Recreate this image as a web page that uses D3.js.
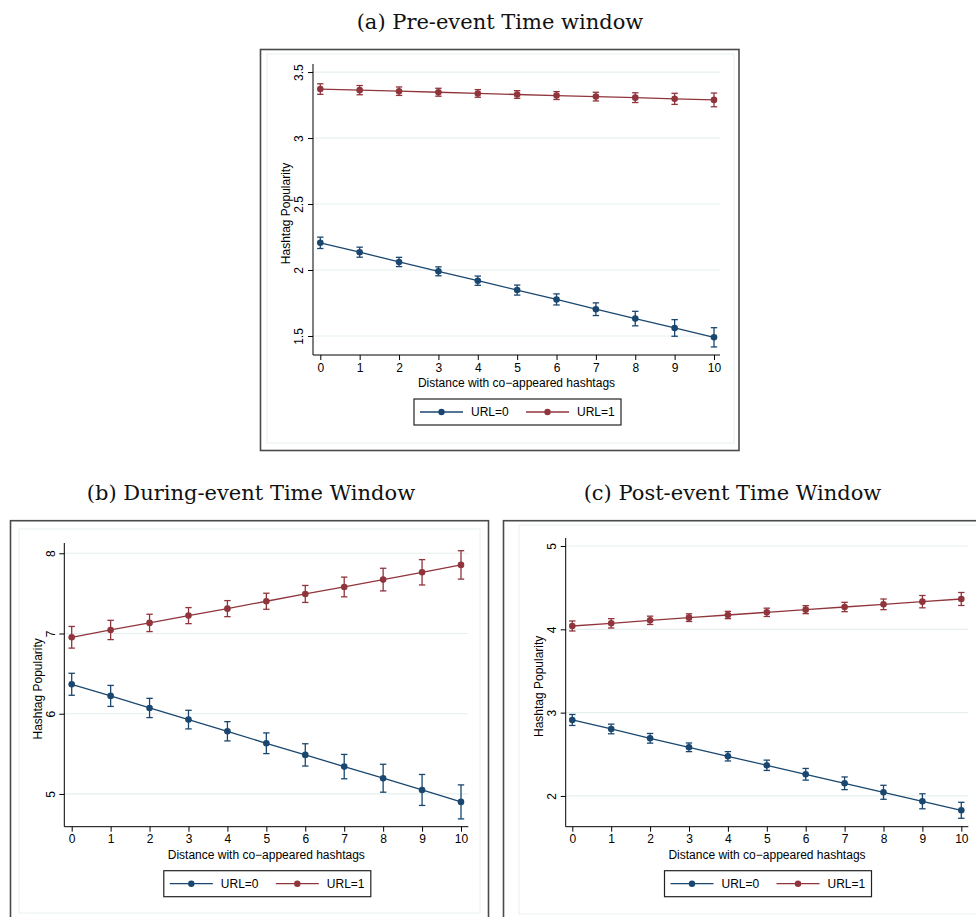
<!DOCTYPE html>
<html>
<head>
<meta charset="utf-8">
<script src="https://cdn.jsdelivr.net/npm/d3@7"></script>
<style>
  html, body { margin: 0; padding: 0; background: #fff; }
  svg { display: block; }
</style>
</head>
<body>
<div id="chart"></div>
<script>
// Margins plots (Stata style), three time windows
const distance = [0, 1, 2, 3, 4, 5, 6, 7, 8, 9, 10];
const seriesNames = ['URL=0', 'URL=1'];
const titles = ['(a) Pre-event Time window', '(b) During-event Time Window', '(c) Post-event Time Window'];
const xLabel = 'Distance with co\u2212appeared hashtags';
const yLabel = 'Hashtag Popularity';

// Pre-event
const preUrl0 = [2.206, 2.135, 2.061, 1.990, 1.919, 1.848, 1.777, 1.703, 1.632, 1.561, 1.490];
const preUrl0Ci = [0.043, 0.038, 0.035, 0.034, 0.035, 0.038, 0.042, 0.048, 0.055, 0.063, 0.073];
const preUrl1 = [3.371, 3.363, 3.355, 3.347, 3.338, 3.330, 3.322, 3.314, 3.306, 3.297, 3.289];
const preUrl1Ci = [0.040, 0.035, 0.032, 0.030, 0.029, 0.029, 0.030, 0.033, 0.037, 0.042, 0.052];
const preTicks = [1.5, 2, 2.5, 3, 3.5];

// During-event
const durUrl0 = [6.367, 6.222, 6.072, 5.927, 5.781, 5.632, 5.487, 5.341, 5.196, 5.050, 4.901];
const durUrl0Ci = [0.137, 0.131, 0.120, 0.116, 0.120, 0.129, 0.139, 0.152, 0.174, 0.193, 0.212];
const durUrl1 = [6.953, 7.044, 7.132, 7.223, 7.310, 7.402, 7.493, 7.580, 7.672, 7.763, 7.855];
const durUrl1Ci = [0.135, 0.120, 0.108, 0.100, 0.100, 0.100, 0.106, 0.123, 0.141, 0.158, 0.177];
const durTicks = [5, 6, 7, 8];

// Post-event
const postUrl0 = [2.912, 2.804, 2.692, 2.584, 2.476, 2.368, 2.260, 2.152, 2.044, 1.936, 1.828];
const postUrl0Ci = [0.066, 0.058, 0.058, 0.052, 0.056, 0.062, 0.070, 0.076, 0.084, 0.090, 0.096];
const postUrl1 = [4.040, 4.072, 4.108, 4.140, 4.172, 4.204, 4.236, 4.268, 4.300, 4.332, 4.364];
const postUrl1Ci = [0.060, 0.056, 0.050, 0.046, 0.044, 0.050, 0.048, 0.056, 0.064, 0.074, 0.078];
const postTicks = [2, 3, 4, 5];

const colors = ['#1a476f', '#90353b'];
const fontFamily = '"Liberation Sans", Arial, sans-serif';
const titleFont = '"DejaVu Serif", "Liberation Serif", serif';

const width = 976, height = 917;
const svg = d3.select('#chart').append('svg')
  .attr('width', width).attr('height', height)
  .attr('viewBox', `0 0 ${width} ${height}`);

// layout for each panel: outer frame, inner region, plot area, y-domain
const panels = [
  {
    title: titles[0], titleX: 500, titleY: 29,
    frame: { x: 260.5, y: 49.5, w: 478.5, h: 401 },
    inner: { x: 267, y: 54, w: 467, h: 389 },
    plot: { left: 313, right: 720, top: 64, bottom: 355, x0: 320.3, x10: 714 },
    yDomain: [1.356, 3.561], yTicks: preTicks,
    series: [[preUrl0, preUrl0Ci], [preUrl1, preUrl1Ci]]
  },
  {
    title: titles[1], titleX: 251, titleY: 500,
    frame: { x: 10.5, y: 520.7, w: 478, h: 402 },
    inner: { x: 19, y: 529, w: 461, h: 384 },
    plot: { left: 64.3, right: 468.3, top: 543, bottom: 826.7, x0: 71.7, x10: 461 },
    yDomain: [4.592, 8.128], yTicks: durTicks,
    series: [[durUrl0, durUrl0Ci], [durUrl1, durUrl1Ci]]
  },
  {
    title: titles[2], titleX: 732.5, titleY: 500,
    frame: { x: 503.5, y: 520.7, w: 485, h: 402 },
    inner: { x: 519, y: 525, w: 470, h: 389 },
    plot: { left: 565.7, right: 968.3, top: 538, bottom: 826.7, x0: 572.3, x10: 961.3 },
    yDomain: [1.631, 5.096], yTicks: postTicks,
    series: [[postUrl0, postUrl0Ci], [postUrl1, postUrl1Ci]]
  }
];

/**
 * Draw one margins panel
 */
function drawPanel(cfg) {
  const g = svg.append('g').attr('class', 'panel');
  const p = cfg.plot;

  g.append('text')
    .attr('x', cfg.titleX).attr('y', cfg.titleY)
    .attr('text-anchor', 'middle')
    .style('font-family', titleFont).style('font-size', '21px')
    .style('fill', '#111')
    .text(cfg.title);

  // graph region frame + inner region
  g.append('rect')
    .attr('x', cfg.frame.x).attr('y', cfg.frame.y)
    .attr('width', cfg.frame.w).attr('height', cfg.frame.h)
    .attr('fill', '#fff').attr('stroke', '#4a4a4a').attr('stroke-width', 1.6);
  g.append('rect')
    .attr('x', cfg.inner.x).attr('y', cfg.inner.y)
    .attr('width', cfg.inner.w).attr('height', cfg.inner.h)
    .attr('fill', '#fff').attr('stroke', '#eaf0f1').attr('stroke-width', 1);

  const x = d3.scaleLinear().domain([0, 10]).range([p.x0, p.x10]);
  const y = d3.scaleLinear().domain(cfg.yDomain).range([p.bottom, p.top]);

  // grid
  g.append('g').attr('class', 'grid')
    .selectAll('line').data(cfg.yTicks).join('line')
    .attr('x1', p.left).attr('x2', p.right)
    .attr('y1', d => y(d)).attr('y2', d => y(d))
    .attr('stroke', '#e6efef').attr('stroke-width', 1.2);

  // y axis
  g.append('g')
    .attr('transform', `translate(${p.left},0)`)
    .call(d3.axisLeft(y).tickValues(cfg.yTicks).tickSize(5).tickPadding(4).tickFormat(d3.format('')))
    .call(a => {
      a.select('.domain').attr('d', `M0,${p.top}V${p.bottom}`).style('stroke', '#000');
      a.selectAll('line').style('stroke', '#000');
      a.selectAll('text')
        .attr('x', null).attr('dy', null)
        .attr('transform', 'translate(-14,0) rotate(-90)')
        .attr('text-anchor', 'middle').attr('dy', '0.35em')
        .style('font-family', fontFamily).style('font-size', '12px').style('fill', '#000');
    });

  // x axis
  g.append('g')
    .attr('transform', `translate(0,${p.bottom})`)
    .call(d3.axisBottom(x).tickValues(distance).tickSize(5).tickPadding(3).tickFormat(d3.format('d')))
    .call(a => {
      a.select('.domain').attr('d', `M${p.left},0H${p.right}`).style('stroke', '#000');
      a.selectAll('line').style('stroke', '#000');
      a.selectAll('text')
        .style('font-family', fontFamily).style('font-size', '12px').style('fill', '#000');
    });

  // axis titles
  g.append('text')
    .attr('x', (p.left + p.right) / 2).attr('y', p.bottom + 32)
    .attr('text-anchor', 'middle')
    .style('font-family', fontFamily).style('font-size', '12px').style('fill', '#000')
    .text(xLabel);
  g.append('text')
    .attr('transform', `translate(${p.left - 27},${(p.top + p.bottom) / 2 + 4}) rotate(-90)`)
    .attr('text-anchor', 'middle').attr('dy', '0.35em')
    .style('font-family', fontFamily).style('font-size', '12px').style('fill', '#000')
    .text(yLabel);

  // series: line, CI caps, markers
  const line = d3.line().x((d, i) => x(distance[i])).y(d => y(d));
  cfg.series.forEach(([vals, ci], si) => {
    const col = colors[si];
    const sg = g.append('g').attr('class', 'series');
    const bars = sg.selectAll('g.ci').data(vals).join('g').attr('class', 'ci');
    bars.append('line')
      .attr('x1', (d, i) => x(distance[i])).attr('x2', (d, i) => x(distance[i]))
      .attr('y1', (d, i) => y(d - ci[i])).attr('y2', (d, i) => y(d + ci[i]))
      .attr('stroke', col).attr('stroke-width', 1.3);
    [-1, 1].forEach(s => {
      bars.append('line')
        .attr('x1', (d, i) => x(distance[i]) - 3.2).attr('x2', (d, i) => x(distance[i]) + 3.2)
        .attr('y1', (d, i) => y(d + s * ci[i])).attr('y2', (d, i) => y(d + s * ci[i]))
        .attr('stroke', col).attr('stroke-width', 1.3);
    });
    sg.append('path').datum(vals)
      .attr('d', line).attr('fill', 'none')
      .attr('stroke', col).attr('stroke-width', 1.3);
    sg.selectAll('circle').data(vals).join('circle')
      .attr('cx', (d, i) => x(distance[i])).attr('cy', d => y(d))
      .attr('r', 3.3).attr('fill', col);
  });

  // legend
  const lw = 207, lh = 26;
  const lx = (p.left + p.right) / 2 - lw / 2 + 1, ly = p.bottom + 44;
  const lg = g.append('g').attr('transform', `translate(${lx},${ly})`);
  lg.append('rect').attr('width', lw).attr('height', lh)
    .attr('fill', '#fff').attr('stroke', '#222').attr('stroke-width', 1.2);
  const items = lg.selectAll('g.item').data(seriesNames).join('g')
    .attr('class', 'item')
    .attr('transform', (d, i) => `translate(${6 + i * 106},${lh / 2})`);
  items.append('line').attr('x1', 0).attr('x2', 43)
    .attr('stroke', (d, i) => colors[i]).attr('stroke-width', 1.3);
  items.append('circle').attr('cx', 21.5).attr('r', 3.2).attr('fill', (d, i) => colors[i]);
  items.append('text').attr('x', 51).attr('dy', '0.35em')
    .style('font-family', fontFamily).style('font-size', '12px').style('fill', '#000')
    .text(d => d);
}

panels.forEach(drawPanel);
</script>
</body>
</html>
